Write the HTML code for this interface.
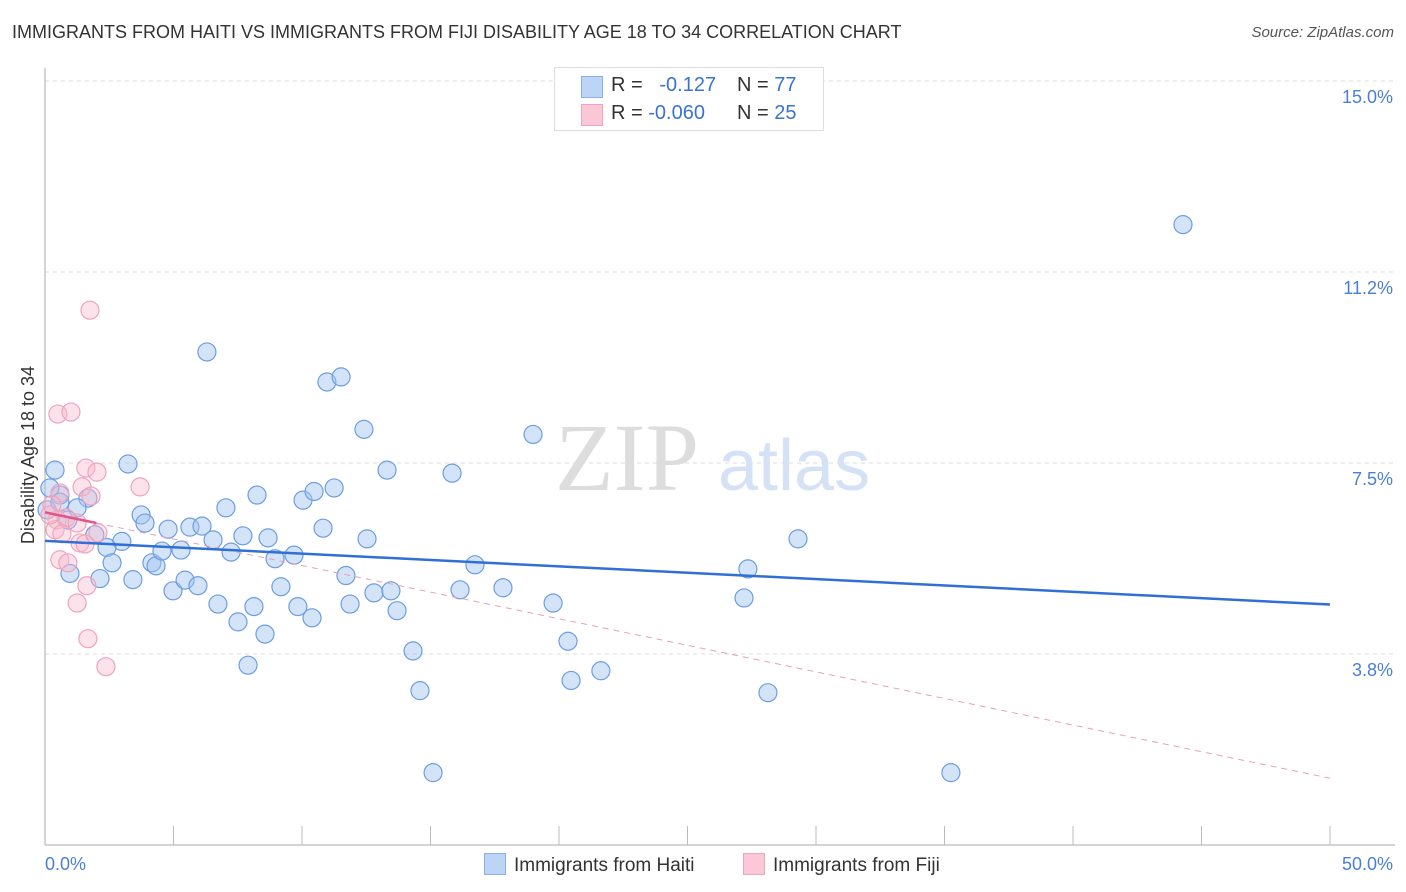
<!DOCTYPE html>
<html><head><meta charset="utf-8">
<style>
body{margin:0;background:#fff;font-family:"Liberation Sans",sans-serif;}
#wrap{position:relative;width:1406px;height:892px;}
.t{position:absolute;white-space:nowrap;}
</style></head><body>
<div id="wrap">
<div class="t" style="left:12px;top:22px;font-size:18px;color:#333;">IMMIGRANTS FROM HAITI VS IMMIGRANTS FROM FIJI DISABILITY AGE 18 TO 34 CORRELATION CHART</div>
<div class="t" style="right:12px;top:24px;font-size:15px;color:#555;font-style:italic;">Source: ZipAtlas.com</div>
<svg id="svg" width="1406" height="892" style="position:absolute;left:0;top:0"></svg>
</div>
<script>
const yTicks=[15.0,11.25,7.5,3.75];
const yTickLabels=["15.0%","11.2%","7.5%","3.8%"];
const xTickLabels=["0.0%","50.0%"];
const haitiX=[0.39,0.58,1.67,1.25,0.89,1.94,2.99,2.41,2.61,0.97,2.14,3.42,3.23,3.74,3.89,4.16,4.32,4.55,4.79,4.98,5.29,5.45,5.64,5.95,6.11,6.30,6.54,6.73,7.04,7.24,7.51,7.70,7.90,8.13,8.25,8.56,8.68,8.95,9.18,9.69,9.84,10.04,10.39,10.47,10.82,10.97,11.25,11.52,11.71,11.87,12.41,12.53,12.80,13.31,13.46,13.70,14.32,14.59,15.10,15.84,16.15,16.73,17.82,18.99,19.77,20.35,20.47,21.63,27.20,27.35,28.13,29.30,35.25,44.28,0.19,0.08,0.58];
const haitiY=[7.36,6.87,6.81,6.62,6.38,6.09,5.96,5.84,5.54,5.33,5.23,5.21,7.48,6.48,6.32,5.54,5.48,5.77,6.20,4.99,5.79,5.20,6.24,5.09,6.26,9.68,5.99,4.73,6.62,5.75,4.38,6.07,3.53,4.68,6.87,4.14,6.03,5.62,5.07,5.69,4.68,6.77,4.46,6.94,6.22,9.09,7.01,9.19,5.29,4.73,8.16,6.01,4.95,7.36,4.99,4.60,3.81,3.03,1.42,7.30,5.01,5.50,5.05,8.06,4.75,4.00,3.23,3.42,4.85,5.42,2.99,6.01,1.42,12.18,7.01,6.58,6.73];
const fijiX=[1.75,0.50,1.01,1.59,2.02,1.44,3.70,0.58,1.79,0.27,0.47,0.82,1.25,0.39,0.66,2.06,1.36,1.56,0.58,0.89,1.63,1.25,1.67,2.37,0.19];
const fijiY=[10.50,8.46,8.50,7.40,7.32,7.03,7.03,6.91,6.85,6.68,6.38,6.42,6.32,6.19,6.11,6.13,5.93,5.91,5.60,5.54,5.09,4.75,4.05,3.50,6.48];
const haitiTrend=[5.97,4.72];
const fijiTrend=[6.53,1.31];
const fijiSolidEnd=2.0;
const X0=45,X1=1330,Y0=81,PXY=50.93;
const sx=v=>X0+(v/50)*(X1-X0);
const sy=v=>Y0+(15-v)*PXY;
const svg=document.getElementById('svg');
const NS='http://www.w3.org/2000/svg';
function mk(tag,attrs){const e=document.createElementNS(NS,tag);for(const k in attrs)e.setAttribute(k,attrs[k]);svg.appendChild(e);return e;}
// gridlines
yTicks.forEach((v,i)=>{
 const g=mk('line',{x1:X0,x2:1395,y1:sy(v),y2:sy(v),stroke:'#ddd','stroke-dasharray':'4,4'});
 
 
 const t=mk('text',{x:1393,y:sy(v)+22,'text-anchor':'end','font-size':18,fill:'#4a7fd4','font-family':'Liberation Sans'});
 t.textContent=yTickLabels[i];
 
 
});
// axes
let ax=mk('line',{x1:X0,x2:X0,y1:68,y2:845,stroke:'#aaa'});


ax=mk('line',{x1:X0,x2:1395,y1:845,y2:845,stroke:'#aaa'});


for(let i=1;i<=10;i++){const tk=mk('line',{x1:sx(i*5),x2:sx(i*5),y1:826,y2:845,stroke:'#bbb'});
 
 }
[[X0+24,'start',0],[1393,'end',1]].forEach(([x,a,i])=>{const t=mk('text',{x:x-24*(i==0),y:870,'text-anchor':a,'font-size':18,fill:'#4a7fd4','font-family':'Liberation Sans'});t.textContent=xTickLabels[i];
 
 });
// watermark
let w=mk('text',{x:555,y:490,'font-size':96,fill:'#ddd','font-family':'Liberation Serif'});w.textContent='ZIP';


w=mk('text',{x:718,y:490,'font-size':72,fill:'#d5e2f5','font-family':'Liberation Sans'});w.textContent='atlas';


// points
haitiX.forEach((x,i)=>{const c=mk('circle',{cx:sx(x),cy:sy(haitiY[i]),r:9,fill:'rgba(160,195,240,0.45)',stroke:'#6d9de2','stroke-width':1.2});
 
 });
fijiX.forEach((x,i)=>{const c=mk('circle',{cx:sx(x),cy:sy(fijiY[i]),r:9,fill:'rgba(248,185,205,0.4)',stroke:'#f0a3bb','stroke-width':1.2});
 
 });
// trends
const fy=x=>fijiTrend[0]+(fijiTrend[1]-fijiTrend[0])*x/50;
let l=mk('line',{x1:sx(fijiSolidEnd),y1:sy(fy(fijiSolidEnd)),x2:sx(50),y2:sy(fijiTrend[1]),stroke:'#e8a0b8','stroke-dasharray':'6,5','stroke-width':1});


l=mk('line',{x1:sx(0),y1:sy(fijiTrend[0]),x2:sx(fijiSolidEnd),y2:sy(fy(fijiSolidEnd)),stroke:'#e0558a','stroke-width':2.5});


l=mk('line',{x1:sx(0),y1:sy(haitiTrend[0]),x2:sx(50),y2:sy(haitiTrend[1]),stroke:'#2f6fd6','stroke-width':2.5});


// y title
const yt=mk('text',{x:34,y:455,'text-anchor':'middle','font-size':18,fill:'#333','font-family':'Liberation Sans',transform:'rotate(-90 34 455)'});
yt.textContent='Disability Age 18 to 34';


</script>
<div class="t" style="left:554px;top:67px;width:268px;height:62px;border:1px solid #ddd;background:#fff;font-size:20px;color:#333;">
 <div style="position:absolute;left:26px;top:8px;width:20px;height:20px;background:#bcd4f6;border:1px solid #8ab0e8"></div>
 <div style="position:absolute;left:56px;top:6px">R = &nbsp;&nbsp;<span style="color:#3a73d0">-0.127</span></div>
 <div style="position:absolute;left:182px;top:6px">N = <span style="color:#3a73d0">77</span></div>
 <div style="position:absolute;left:26px;top:36px;width:20px;height:20px;background:#fcc8d8;border:1px solid #f0a3bb"></div>
 <div style="position:absolute;left:56px;top:34px">R = <span style="color:#3a73d0">-0.060</span></div>
 <div style="position:absolute;left:182px;top:34px">N = <span style="color:#3a73d0">25</span></div>
</div>
<div class="t" style="left:484px;top:853px;font-size:19px;color:#333;">
 <span style="display:inline-block;width:20px;height:20px;background:#bcd4f6;border:1px solid #8ab0e8;vertical-align:-4px;margin-right:8px"></span>Immigrants from Haiti</div>
<div class="t" style="left:743px;top:853px;font-size:19px;color:#333;">
 <span style="display:inline-block;width:20px;height:20px;background:#fcc8d8;border:1px solid #f0a3bb;vertical-align:-4px;margin-right:8px"></span>Immigrants from Fiji</div>
</body></html>
